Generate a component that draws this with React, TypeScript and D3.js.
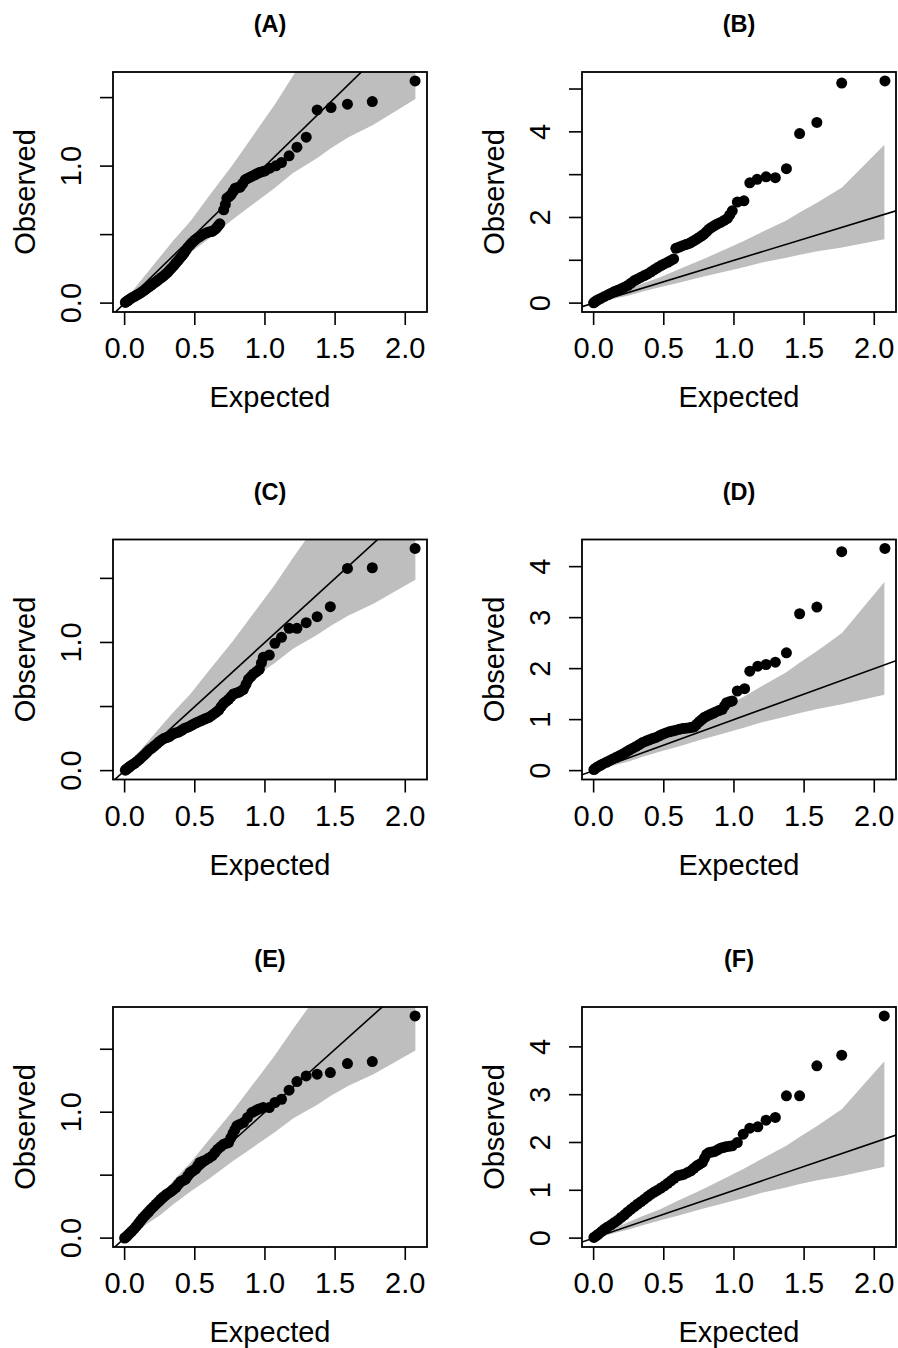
import React from 'react';
import * as d3 from 'd3';

const titles = ['(A)', '(B)', '(C)', '(D)', '(E)', '(F)'];
const xTicks = [0, 0.5, 1, 1.5, 2];
const xTickLabels = ['0.0', '0.5', '1.0', '1.5', '2.0'];
const expectedRange = [0, 2.072];

// confidence band: [expected, lower, upper]
const band: [number, number, number][] = [
  [0.0037, 0.0001, 0.014],
  [0.05, 0.028, 0.08],
  [0.1, 0.065, 0.145],
  [0.168, 0.12, 0.23],
  [0.25, 0.18, 0.335],
  [0.35, 0.27, 0.46],
  [0.47, 0.37, 0.6],
  [0.6, 0.47, 0.78],
  [0.77, 0.61, 1.01],
  [0.9, 0.71, 1.2],
  [1.07, 0.84, 1.45],
  [1.2, 0.95, 1.66],
  [1.373, 1.06, 1.93],
  [1.47, 1.13, 2.12],
  [1.595, 1.21, 2.35],
  [1.77, 1.3, 2.7],
  [2.072, 1.49, 3.7],
];

const obsA: [number, number][] = [
  [0.005, 0.005], [0.015, 0.012], [0.024, 0.019], [0.035, 0.027], [0.047, 0.036],
  [0.059, 0.043], [0.071, 0.049], [0.085, 0.058], [0.099, 0.066], [0.114, 0.075],
  [0.129, 0.085], [0.145, 0.097], [0.16, 0.109], [0.174, 0.119], [0.188, 0.129],
  [0.202, 0.14], [0.216, 0.151], [0.232, 0.163], [0.247, 0.175], [0.262, 0.187],
  [0.278, 0.199], [0.292, 0.211], [0.306, 0.224], [0.32, 0.24], [0.334, 0.255],
  [0.35, 0.273], [0.365, 0.292], [0.38, 0.31], [0.395, 0.328], [0.41, 0.346],
  [0.424, 0.365], [0.438, 0.386], [0.452, 0.408], [0.467, 0.426], [0.482, 0.443],
  [0.5, 0.46], [0.518, 0.474], [0.535, 0.486], [0.553, 0.498], [0.57, 0.507],
  [0.588, 0.515], [0.606, 0.52], [0.624, 0.523], [0.64, 0.535], [0.654, 0.547],
  [0.666, 0.563], [0.678, 0.579], [0.706, 0.681], [0.718, 0.72], [0.729, 0.766],
  [0.744, 0.778], [0.758, 0.79], [0.773, 0.815], [0.788, 0.839], [0.806, 0.843],
  [0.824, 0.846], [0.841, 0.873], [0.859, 0.9], [0.876, 0.91], [0.894, 0.919],
  [0.911, 0.928], [0.929, 0.936], [0.945, 0.945], [0.96, 0.953], [0.98, 0.959],
  [1.0, 0.965], [1.035, 0.985], [1.078, 1.002], [1.118, 1.026], [1.172, 1.075],
  [1.228, 1.138], [1.294, 1.211], [1.372, 1.41], [1.471, 1.427], [1.588, 1.452],
  [1.765, 1.471], [2.07, 1.622],
];

const obsB: [number, number][] = [
  [0.0, 0.008], [0.01, 0.03], [0.019, 0.054], [0.036, 0.085], [0.054, 0.116],
  [0.078, 0.155], [0.102, 0.194], [0.125, 0.232], [0.149, 0.271], [0.172, 0.302],
  [0.196, 0.333], [0.22, 0.372], [0.243, 0.411], [0.267, 0.469], [0.291, 0.527],
  [0.314, 0.566], [0.338, 0.605], [0.361, 0.643], [0.385, 0.682], [0.409, 0.732],
  [0.433, 0.783], [0.456, 0.83], [0.48, 0.876], [0.503, 0.915], [0.527, 0.953],
  [0.548, 0.99], [0.57, 1.031], [0.586, 1.279], [0.61, 1.31], [0.634, 1.341],
  [0.657, 1.368], [0.681, 1.395], [0.698, 1.426], [0.716, 1.457], [0.734, 1.496],
  [0.752, 1.535], [0.77, 1.573], [0.787, 1.612], [0.805, 1.67], [0.823, 1.729],
  [0.84, 1.767], [0.858, 1.806], [0.88, 1.845], [0.905, 1.884], [0.93, 1.93],
  [0.953, 1.977], [0.97, 2.06], [0.988, 2.155], [1.024, 2.36], [1.071, 2.39],
  [1.113, 2.81], [1.165, 2.89], [1.229, 2.95], [1.295, 2.93], [1.374, 3.14],
  [1.468, 3.96], [1.591, 4.22], [1.768, 5.14], [2.076, 5.19],
];

const obsC: [number, number][] = [
  [0.005, 0.003], [0.012, 0.01], [0.019, 0.016], [0.03, 0.026], [0.042, 0.036],
  [0.056, 0.046], [0.071, 0.057], [0.088, 0.072], [0.106, 0.088], [0.123, 0.105],
  [0.141, 0.122], [0.158, 0.142], [0.176, 0.161], [0.194, 0.176], [0.212, 0.192],
  [0.23, 0.209], [0.247, 0.226], [0.264, 0.239], [0.282, 0.252], [0.3, 0.258],
  [0.318, 0.265], [0.335, 0.278], [0.353, 0.291], [0.37, 0.296], [0.388, 0.302],
  [0.406, 0.315], [0.424, 0.328], [0.44, 0.335], [0.459, 0.343], [0.476, 0.353],
  [0.494, 0.364], [0.51, 0.373], [0.529, 0.382], [0.547, 0.391], [0.565, 0.4],
  [0.582, 0.408], [0.6, 0.416], [0.618, 0.429], [0.635, 0.442], [0.653, 0.457],
  [0.671, 0.473], [0.688, 0.5], [0.706, 0.525], [0.723, 0.54], [0.741, 0.556],
  [0.758, 0.577], [0.776, 0.598], [0.794, 0.604], [0.812, 0.611], [0.83, 0.622],
  [0.847, 0.634], [0.865, 0.673], [0.882, 0.712], [0.9, 0.733], [0.918, 0.754],
  [0.94, 0.772], [0.96, 0.79], [0.975, 0.84], [0.988, 0.884], [1.031, 0.902],
  [1.071, 0.993], [1.118, 1.04], [1.172, 1.11], [1.228, 1.11], [1.294, 1.154],
  [1.372, 1.201], [1.466, 1.279], [1.588, 1.578], [1.765, 1.583], [2.07, 1.734],
];

const obsD: [number, number][] = [
  [0.002, 0.02], [0.016, 0.049], [0.031, 0.078], [0.048, 0.104], [0.066, 0.13],
  [0.09, 0.162], [0.113, 0.195], [0.137, 0.228], [0.161, 0.26], [0.185, 0.292],
  [0.208, 0.325], [0.232, 0.364], [0.255, 0.403], [0.28, 0.44], [0.303, 0.475],
  [0.327, 0.514], [0.35, 0.553], [0.374, 0.579], [0.397, 0.605], [0.42, 0.628],
  [0.444, 0.65], [0.468, 0.683], [0.492, 0.715], [0.515, 0.738], [0.539, 0.761],
  [0.562, 0.777], [0.586, 0.793], [0.61, 0.81], [0.634, 0.826], [0.658, 0.833],
  [0.681, 0.839], [0.7, 0.849], [0.716, 0.859], [0.734, 0.908], [0.752, 0.956],
  [0.77, 0.999], [0.787, 1.041], [0.808, 1.07], [0.83, 1.099], [0.85, 1.125],
  [0.87, 1.151], [0.893, 1.177], [0.917, 1.203], [0.933, 1.268], [0.948, 1.333],
  [0.968, 1.35], [0.988, 1.366], [1.024, 1.561], [1.076, 1.607], [1.113, 1.951],
  [1.17, 2.049], [1.229, 2.081], [1.295, 2.127], [1.374, 2.309], [1.468, 3.076],
  [1.591, 3.207], [1.768, 4.293], [2.076, 4.358],
];

const obsE: [number, number][] = [
  [0.0, 0.0], [0.006, 0.005], [0.012, 0.011], [0.024, 0.024], [0.035, 0.037],
  [0.05, 0.054], [0.066, 0.071], [0.082, 0.093], [0.099, 0.116], [0.114, 0.138],
  [0.129, 0.159], [0.145, 0.178], [0.16, 0.196], [0.174, 0.213], [0.188, 0.23],
  [0.206, 0.25], [0.224, 0.27], [0.242, 0.29], [0.259, 0.31], [0.276, 0.327],
  [0.294, 0.344], [0.312, 0.357], [0.329, 0.37], [0.347, 0.386], [0.365, 0.402],
  [0.382, 0.426], [0.4, 0.45], [0.418, 0.459], [0.435, 0.468], [0.45, 0.495],
  [0.466, 0.521], [0.486, 0.535], [0.506, 0.548], [0.521, 0.575], [0.536, 0.601],
  [0.556, 0.61], [0.576, 0.619], [0.6, 0.636], [0.624, 0.653], [0.644, 0.68],
  [0.664, 0.706], [0.685, 0.726], [0.706, 0.746], [0.724, 0.753], [0.741, 0.759],
  [0.756, 0.795], [0.772, 0.831], [0.786, 0.862], [0.8, 0.892], [0.823, 0.905],
  [0.847, 0.918], [0.876, 0.958], [0.906, 0.997], [0.93, 1.01], [0.953, 1.024],
  [0.97, 1.03], [0.988, 1.037], [1.031, 1.037], [1.071, 1.077], [1.118, 1.103],
  [1.172, 1.175], [1.228, 1.243], [1.294, 1.288], [1.372, 1.302], [1.466, 1.315],
  [1.588, 1.386], [1.765, 1.402], [2.07, 1.765],
];

const obsF: [number, number][] = [
  [0.002, 0.014], [0.018, 0.049], [0.035, 0.084], [0.056, 0.136], [0.078, 0.188],
  [0.1, 0.234], [0.125, 0.279], [0.149, 0.328], [0.173, 0.376], [0.196, 0.432],
  [0.22, 0.488], [0.243, 0.547], [0.267, 0.606], [0.29, 0.658], [0.314, 0.711],
  [0.338, 0.763], [0.362, 0.815], [0.385, 0.868], [0.409, 0.92], [0.432, 0.962],
  [0.456, 1.003], [0.48, 1.048], [0.504, 1.094], [0.528, 1.146], [0.551, 1.199],
  [0.574, 1.251], [0.598, 1.303], [0.622, 1.32], [0.645, 1.338], [0.67, 1.373],
  [0.693, 1.408], [0.714, 1.46], [0.735, 1.512], [0.755, 1.547], [0.775, 1.582],
  [0.79, 1.67], [0.806, 1.756], [0.823, 1.791], [0.843, 1.8], [0.863, 1.812],
  [0.884, 1.847], [0.905, 1.882], [0.923, 1.895], [0.941, 1.909], [0.965, 1.92],
  [0.988, 1.93], [1.024, 2.0], [1.066, 2.174], [1.113, 2.3], [1.17, 2.328],
  [1.229, 2.467], [1.295, 2.523], [1.374, 2.976], [1.468, 2.976], [1.591, 3.603],
  [1.768, 3.826], [2.071, 4.648],
];

const yTicksSmall = [0, 0.5, 1, 1.5];
const yLabelsSmall = ['0.0', '', '1.0', ''];
const yTicksB = [0, 1, 2, 3, 4, 5];
const yLabelsB = ['0', '', '2', '', '4', ''];
const yTicksBig = [0, 1, 2, 3, 4];
const yLabelsBig = ['0', '1', '2', '3', '4'];

const panels = [
  { title: titles[0], obs: obsA, yTicks: yTicksSmall, yLabels: yLabelsSmall },
  { title: titles[1], obs: obsB, yTicks: yTicksB, yLabels: yLabelsB },
  { title: titles[2], obs: obsC, yTicks: yTicksSmall, yLabels: yLabelsSmall },
  { title: titles[3], obs: obsD, yTicks: yTicksBig, yLabels: yLabelsBig },
  { title: titles[4], obs: obsE, yTicks: yTicksSmall, yLabels: yLabelsSmall },
  { title: titles[5], obs: obsF, yTicks: yTicksBig, yLabels: yLabelsBig },
];

const W = 898;
const H = 1348;
const colLeft = [113, 582];
const rowTop = [72, 539.5, 1007];
const boxW = 314;
const boxH = 240;
const FONT = '"Liberation Sans", Arial, Helvetica, sans-serif';

function pad(ext: number[]) {
  const r = ext[1] - ext[0];
  return [ext[0] - 0.04 * r, ext[1] + 0.04 * r];
}

function Panel({ p, i }: { p: any; i: number }) {
  const left = colLeft[i % 2];
  const top = rowTop[Math.floor(i / 2)];
  const right = left + boxW;
  const bottom = top + boxH;
  const x = d3.scaleLinear().domain(pad(expectedRange)).range([left, right]);
  const yExt = d3.extent(p.obs as [number, number][], (d) => d[1]) as [number, number];
  const y = d3.scaleLinear().domain(pad([Math.min(0, yExt[0]), yExt[1]])).range([bottom, top]);
  const area = d3
    .area<[number, number, number]>()
    .x((d) => x(d[0]))
    .y0((d) => y(d[1]))
    .y1((d) => y(d[2]));
  const xd = x.domain();
  const clipId = `clip${i}`;
  const cx = (left + right) / 2;
  const cy = (top + bottom) / 2;
  return (
    <g>
      <defs>
        <clipPath id={clipId}>
          <rect x={left} y={top} width={boxW} height={boxH} />
        </clipPath>
      </defs>
      <g clipPath={`url(#${clipId})`}>
        <path d={area(band) || ''} fill="#bebebe" stroke="none" />
        <line x1={x(xd[0])} y1={y(xd[0])} x2={x(xd[1])} y2={y(xd[1])} stroke="#000" strokeWidth={1.6} />
        {(p.obs as [number, number][]).map((d, k) => (
          <circle key={k} cx={x(d[0])} cy={y(d[1])} r={5.5} fill="#000" />
        ))}
      </g>
      <rect x={left} y={top} width={boxW} height={boxH} fill="none" stroke="#000" strokeWidth={1.8} />
      {xTicks.map((t, k) => (
        <g key={k}>
          <line x1={x(t)} x2={x(t)} y1={bottom} y2={bottom + 13} stroke="#000" strokeWidth={1.6} />
          <text x={x(t)} y={bottom + 46} textAnchor="middle" fontSize={29} fontFamily={FONT}>
            {xTickLabels[k]}
          </text>
        </g>
      ))}
      {(p.yTicks as number[]).map((t, k) => (
        <g key={k}>
          <line x1={left - 13} x2={left} y1={y(t)} y2={y(t)} stroke="#000" strokeWidth={1.6} />
          {p.yLabels[k] ? (
            <text
              transform={`translate(${left - 32},${y(t)}) rotate(-90)`}
              textAnchor="middle"
              fontSize={29}
              fontFamily={FONT}
            >
              {p.yLabels[k]}
            </text>
          ) : null}
        </g>
      ))}
      <text x={cx} y={bottom + 95} textAnchor="middle" fontSize={29} fontFamily={FONT}>
        Expected
      </text>
      <text
        transform={`translate(${left - 78},${cy}) rotate(-90)`}
        textAnchor="middle"
        fontSize={29}
        fontFamily={FONT}
      >
        Observed
      </text>
      <text x={cx} y={top - 40} textAnchor="middle" fontSize={23.5} fontWeight="bold" fontFamily={FONT}>
        {p.title}
      </text>
    </g>
  );
}

export default function App() {
  return (
    <svg
      width={W}
      height={H}
      viewBox={`0 0 ${W} ${H}`}
      style={{ position: 'absolute', left: 0, top: 0, background: '#fff' }}
    >
      <rect x={0} y={0} width={W} height={H} fill="#fff" />
      {panels.map((p, i) => (
        <Panel key={i} p={p} i={i} />
      ))}
    </svg>
  );
}
